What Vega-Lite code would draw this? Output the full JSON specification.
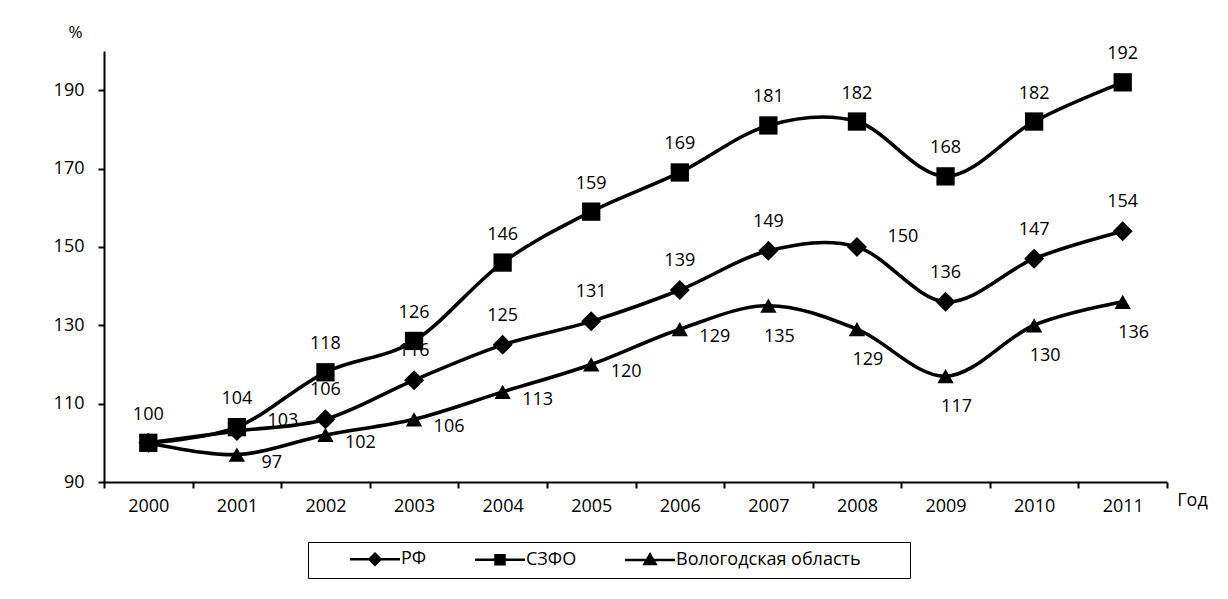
{
  "$schema": "https://vega.github.io/schema/vega-lite/v6.json",
  "autosize": "none",
  "width": 1063,
  "height": 431,
  "padding": {"left": 104, "top": 51, "right": 61, "bottom": 117},
  "background": "white",
  "data": {
    "values": [
      {"year": "2000", "series": "РФ", "value": 100},
      {"year": "2001", "series": "РФ", "value": 103},
      {"year": "2002", "series": "РФ", "value": 106},
      {"year": "2003", "series": "РФ", "value": 116},
      {"year": "2004", "series": "РФ", "value": 125},
      {"year": "2005", "series": "РФ", "value": 131},
      {"year": "2006", "series": "РФ", "value": 139},
      {"year": "2007", "series": "РФ", "value": 149},
      {"year": "2008", "series": "РФ", "value": 150},
      {"year": "2009", "series": "РФ", "value": 136},
      {"year": "2010", "series": "РФ", "value": 147},
      {"year": "2011", "series": "РФ", "value": 154},
      {"year": "2000", "series": "СЗФО", "value": 100},
      {"year": "2001", "series": "СЗФО", "value": 104},
      {"year": "2002", "series": "СЗФО", "value": 118},
      {"year": "2003", "series": "СЗФО", "value": 126},
      {"year": "2004", "series": "СЗФО", "value": 146},
      {"year": "2005", "series": "СЗФО", "value": 159},
      {"year": "2006", "series": "СЗФО", "value": 169},
      {"year": "2007", "series": "СЗФО", "value": 181},
      {"year": "2008", "series": "СЗФО", "value": 182},
      {"year": "2009", "series": "СЗФО", "value": 168},
      {"year": "2010", "series": "СЗФО", "value": 182},
      {"year": "2011", "series": "СЗФО", "value": 192},
      {"year": "2000", "series": "Вологодская область", "value": 100},
      {"year": "2001", "series": "Вологодская область", "value": 97},
      {"year": "2002", "series": "Вологодская область", "value": 102},
      {"year": "2003", "series": "Вологодская область", "value": 106},
      {"year": "2004", "series": "Вологодская область", "value": 113},
      {"year": "2005", "series": "Вологодская область", "value": 120},
      {"year": "2006", "series": "Вологодская область", "value": 129},
      {"year": "2007", "series": "Вологодская область", "value": 135},
      {"year": "2008", "series": "Вологодская область", "value": 129},
      {"year": "2009", "series": "Вологодская область", "value": 117},
      {"year": "2010", "series": "Вологодская область", "value": 130},
      {"year": "2011", "series": "Вологодская область", "value": 136}
    ]
  },
  "encoding": {
    "x": {
      "field": "year",
      "type": "ordinal",
      "bandPosition": 0.5,
      "scale": {"type": "band", "paddingInner": 0, "paddingOuter": 0},
      "axis": {
        "title": "Год",
        "titleX": 1088,
        "titleY": 18,
        "titleAlign": "center",
        "titleBaseline": "middle",
        "titleAnchor": null,
        "titleFontWeight": "normal",
        "titleFont": "Open Sans",
        "titleFontSize": 18,
        "titleColor": "black",
        "labelAngle": 0,
        "labelPadding": 9,
        "tickBand": "extent"
      }
    },
    "y": {
      "field": "value",
      "type": "quantitative",
      "scale": {"domain": [90, 200], "nice": false, "zero": false},
      "axis": {
        "values": [90, 110, 130, 150, 170, 190],
        "title": "%",
        "titleAngle": 0,
        "titleX": -29,
        "titleY": -19,
        "titleAlign": "center",
        "titleBaseline": "middle",
        "titleFontWeight": "normal",
        "titleFont": "Open Sans",
        "titleFontSize": 17,
        "titleColor": "black",
        "labelPadding": 14
      }
    }
  },
  "layer": [
    {
      "mark": {"type": "line", "color": "black", "strokeWidth": 3.6, "interpolate": "cardinal"},
      "encoding": {"detail": {"field": "series"}}
    },
    {
      "mark": {"type": "point", "filled": true, "color": "black", "opacity": 1},
      "encoding": {
        "shape": {
          "field": "series",
          "scale": {"domain": ["РФ", "СЗФО", "Вологодская область"], "range": ["diamond", "square", "triangle-up"]},
          "legend": null
        },
        "size": {
          "field": "series",
          "type": "nominal",
          "scale": {"domain": ["РФ", "СЗФО", "Вологодская область"], "range": [400, 270, 380]},
          "legend": null
        }
      }
    },
    {
      "transform": [{"filter": "datum.series == 'СЗФО'"}],
      "mark": {"type": "text", "font": "Open Sans", "fontSize": 18, "color": "black", "dy": -28},
      "encoding": {"text": {"field": "value"}}
    },
    {
      "transform": [{"filter": "datum.series == 'РФ' && datum.year != '2000' && datum.year != '2001' && datum.year != '2008'"}],
      "mark": {"type": "text", "font": "Open Sans", "fontSize": 18, "color": "black", "dy": -29},
      "encoding": {"text": {"field": "value"}}
    },
    {
      "transform": [{"filter": "datum.series == 'РФ' && (datum.year == '2001' || datum.year == '2008')"}],
      "mark": {"type": "text", "font": "Open Sans", "fontSize": 18, "color": "black", "dx": 46, "dy": -10},
      "encoding": {"text": {"field": "value"}}
    },
    {
      "transform": [{"filter": "datum.series == 'Вологодская область' && datum.year > '2000' && datum.year < '2007'"}],
      "mark": {"type": "text", "font": "Open Sans", "fontSize": 18, "color": "black", "dx": 35, "dy": 8},
      "encoding": {"text": {"field": "value"}}
    },
    {
      "transform": [{"filter": "datum.series == 'Вологодская область' && datum.year >= '2007'"}],
      "mark": {"type": "text", "font": "Open Sans", "fontSize": 18, "color": "black", "dx": 11, "dy": 31},
      "encoding": {"text": {"field": "value"}}
    },
    {
      "mark": {"type": "point", "filled": false, "color": "black", "opacity": 0},
      "encoding": {
        "shape": {
          "field": "series",
          "scale": {
            "domain": ["РФ", "СЗФО", "Вологодская область"],
            "range": [
              "M-5,0H5M0,-1.1L1.1,0L0,1.1L-1.1,0Z",
              "M-5,0H5M-0.9,-0.9H0.9V0.9H-0.9Z",
              "M-5,0H5M0,-1.1L1.1,0.8H-1.1Z"
            ]
          },
          "legend": {
            "title": "ММ",
            "titleOrient": "right",
            "titleOpacity": 0,
            "titleFont": "Open Sans",
            "titleFontSize": 17,
            "titlePadding": 8,
            "orient": "none",
            "legendX": 204,
            "legendY": 491,
            "direction": "horizontal",
            "strokeColor": "black",
            "padding": 8,
            "symbolSize": 100,
            "symbolFillColor": "black",
            "symbolStrokeColor": "black",
            "symbolStrokeWidth": 2.5,
            "symbolOpacity": 1,
            "symbolOffset": 50,
            "labelOffset": 17,
            "labelFont": "Open Sans",
            "labelFontSize": 18,
            "labelColor": "black",
            "labelLimit": 400,
            "columnPadding": 14,
            "encoding": {
              "symbols": {
                "fill": {"value": "black"},
                "stroke": {"value": "black"},
                "strokeWidth": {"value": 2.5}
              }
            }
          }
        }
      }
    }
  ],
  "resolve": {"scale": {"shape": "independent", "size": "independent"}},
  "config": {
    "view": {"stroke": null},
    "axis": {
      "domainColor": "black",
      "domainWidth": 2,
      "tickColor": "black",
      "tickWidth": 2,
      "tickSize": 6,
      "labelFont": "Open Sans",
      "labelFontSize": 18,
      "labelColor": "black",
      "grid": false
    }
  }
}
